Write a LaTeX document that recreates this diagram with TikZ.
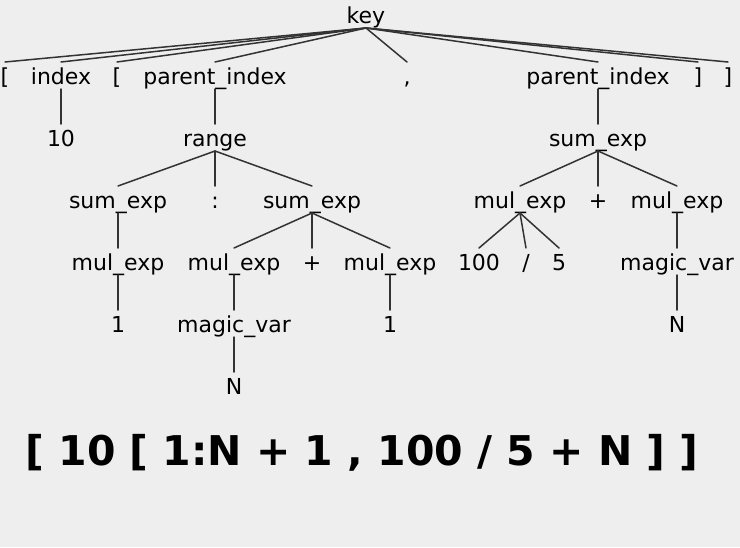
\documentclass[tikz,border=0pt]{standalone}
\usepackage{fontspec}
\setmainfont{DejaVu Sans}
\definecolor{treeBg}{RGB}{238,238,238}
\definecolor{treeEdge}{RGB}{51,51,51}

\tikzset{
  tok/.style={inner sep=0pt, outer sep=0pt, anchor=base, text height=22pt, text depth=5pt,
    font=\fontsize{22}{26}\selectfont},
  branch/.style={treeEdge, line width=1.5pt},
}

\begin{document}
\begin{tikzpicture}[x=1pt, y=-1pt, line cap=round, line join=round]
    \fill[treeBg] (0,0) rectangle (740,547);
    \useasboundingbox (0,0) rectangle (740,547);
    % root
    \node[tok] (key) at (366,23) {key};
    % first level
    \node[tok] (lbrA) at (5,84) {[};
    \node[tok] (idx) at (61,84) {index};
    \node[tok] (lbrB) at (117,84) {[};
    \node[tok] (pidxA) at (215,84) {parent\_index};
    \node[tok] (comma) at (407,84) {,};
    \node[tok] (pidxB) at (598,84) {parent\_index};
    \node[tok] (rbrA) at (698,84) {]};
    \node[tok] (rbrB) at (728,84) {]};
    % second level
    \node[tok] (ten) at (61,146) {10};
    \node[tok] (rng) at (215,146) {range};
    \node[tok] (sumR) at (598,146) {sum\_exp};
    % third level
    \node[tok] (sumA) at (118,208) {sum\_exp};
    \node[tok] (colon) at (215,208) {:};
    \node[tok] (sumB) at (312,208) {sum\_exp};
    \node[tok] (mulR) at (520,208) {mul\_exp};
    \node[tok] (plusR) at (598,208) {+};
    \node[tok] (mulS) at (677,208) {mul\_exp};
    % fourth level
    \node[tok] (mulA) at (118,270) {mul\_exp};
    \node[tok] (mulB) at (234,270) {mul\_exp};
    \node[tok] (plusB) at (312,270) {+};
    \node[tok] (mulC) at (390,270) {mul\_exp};
    \node[tok] (hund) at (479,270) {100};
    \node[tok] (slash) at (526,270) {/};
    \node[tok] (five) at (559,270) {5};
    \node[tok] (magR) at (677,270) {magic\_var};
    % fifth level
    \node[tok] (oneA) at (118,332) {1};
    \node[tok] (magB) at (234,332) {magic\_var};
    \node[tok] (oneC) at (390,332) {1};
    \node[tok] (enR) at (677,332) {N};
    % sixth level
    \node[tok] (enB) at (234,394) {N};

    % edges
    \foreach \c in {lbrA,idx,lbrB,pidxA,comma,pidxB,rbrA,rbrB}
        \draw[branch] (key.south) -- (\c.north);
    \draw[branch] (idx.south) -- (ten.north);
    \draw[branch] (pidxA.south) -- (rng.north);
    \draw[branch] (pidxB.south) -- (sumR.north);
    \foreach \c in {sumA,colon,sumB}
        \draw[branch] (rng.south) -- (\c.north);
    \foreach \c in {mulR,plusR,mulS}
        \draw[branch] (sumR.south) -- (\c.north);
    \foreach \c in {mulB,plusB,mulC}
        \draw[branch] (sumB.south) -- (\c.north);
    \foreach \c in {hund,slash,five}
        \draw[branch] (mulR.south) -- (\c.north);
    \draw[branch] (sumA.south) -- (mulA.north);
    \draw[branch] (mulA.south) -- (oneA.north);
    \draw[branch] (mulB.south) -- (magB.north);
    \draw[branch] (magB.south) -- (enB.north);
    \draw[branch] (mulC.south) -- (oneC.north);
    \draw[branch] (mulS.south) -- (magR.north);
    \draw[branch] (magR.south) -- (enR.north);

    % the parsed string
    \node[anchor=base, inner sep=0pt, font=\fontsize{41}{48}\bfseries\selectfont] (expr) at (362,465)
        {[ 10 [ 1:N + 1 , 100 / 5 + N ] ]};
\end{tikzpicture}
\end{document}
